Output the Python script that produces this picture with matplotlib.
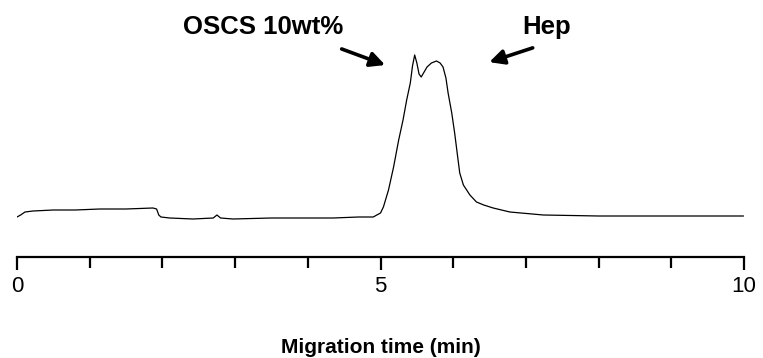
import matplotlib.pyplot as plt

plt.rcParams['font.family'] = ['Liberation Sans', 'DejaVu Sans']

# electropherogram trace (migration time in min, detector signal in a.u.)
time = [-0.05, 0.05, 0.11, 0.22, 0.5, 0.8, 1.14, 1.5, 1.87, 1.92, 1.95, 1.98,
        2.1, 2.42, 2.7, 2.75, 2.8, 2.97, 3.5, 4.0, 4.35, 4.7, 4.9, 5.0, 5.04, 5.11,
        5.18, 5.25, 5.31, 5.36, 5.41, 5.44, 5.47, 5.5, 5.53, 5.56, 5.6, 5.64,
        5.7, 5.77, 5.82, 5.86, 5.9, 5.93, 5.98, 6.02, 6.06, 6.09, 6.14, 6.23,
        6.32, 6.42, 6.55, 6.78, 7.24, 8.0, 9.0, 9.99]
signal = [-1, 3, 6, 7, 8, 8, 9, 9, 10, 9, 3, 1,
          0, -1, 0, 3, 0, -1, 0, 0, 0, 1, 1, 5, 11, 28,
          51, 78, 98, 118, 135, 152, 163, 155, 144, 141, 146, 151,
          155, 157, 155, 151, 140, 125, 105, 85, 62, 45, 33, 23,
          16, 13, 10, 6, 3, 2, 2, 2]

major_ticks = [0, 5, 10]
minor_ticks = [1, 2, 3, 4, 6, 7, 8, 9]

fig = plt.figure(figsize=(7.63, 3.58), dpi=100)
ax = fig.add_axes([17 / 763, 101 / 358, 727 / 763, 257 / 358])
ax.plot(time, signal, color='black', lw=0.9)

ax.set_xlim(0, 10)
ax.set_ylim(-39, 218)
for s in ['left', 'right', 'top']:
    ax.spines[s].set_visible(False)
ax.spines['bottom'].set_linewidth(1.6)
ax.set_yticks([])
ax.set_xticks(major_ticks)
ax.set_xticks(minor_ticks, minor=True)
ax.tick_params(axis='x', which='major', direction='out', length=9, width=1.6,
               labelsize=16, pad=5)
ax.tick_params(axis='x', which='minor', direction='out', length=8, width=1.6)
ax.set_xlabel('Migration time (min)', fontsize=15, fontweight='bold', labelpad=29)

# peak labels with arrows
ax.annotate('', xy=(5.1, 152), xytext=(4.43, 170),
            arrowprops=dict(arrowstyle='-|>', lw=2.6, color='black', mutation_scale=22))
ax.annotate('', xy=(6.46, 155), xytext=(7.13, 171),
            arrowprops=dict(arrowstyle='-|>', lw=2.6, color='black', mutation_scale=22))
ax.text(3.38, 191, 'OSCS 10wt%', fontsize=18.5, fontweight='bold', ha='center', va='center')
ax.text(7.28, 191, 'Hep', fontsize=18.5, fontweight='bold', ha='center', va='center')

fig.savefig('out.png', dpi=100)
